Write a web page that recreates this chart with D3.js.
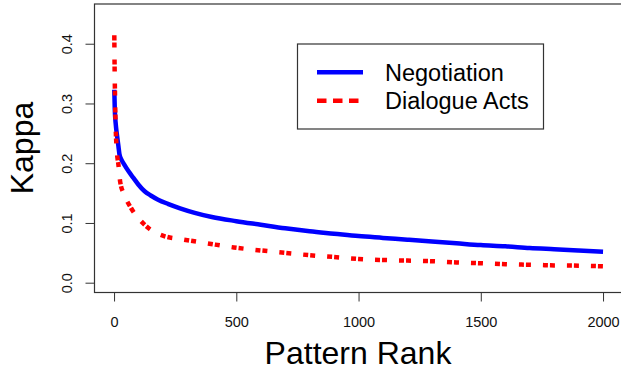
<!DOCTYPE html>
<html>
<head>
<meta charset="utf-8">
<script src="https://cdn.jsdelivr.net/npm/d3@7"></script>
<style>
    body { margin: 0; background: white; }
    svg { display: block; font-family: "Liberation Sans", Arial, Helvetica, sans-serif; }
</style>
</head>
<body>
<script>
// Negotiation
const neg_rank = [1, 3, 7, 11, 18, 22, 30, 40, 60, 80, 100, 125, 150, 180, 220, 270, 330, 400, 500, 600, 700, 800, 900, 1000, 1100, 1200, 1300, 1400, 1500, 1600, 1700, 1800, 1900, 2000];
const neg_kappa = [0.323, 0.29, 0.265, 0.25, 0.228, 0.215, 0.206, 0.199, 0.186, 0.175, 0.164, 0.153, 0.146, 0.139, 0.132, 0.1246, 0.117, 0.110, 0.103, 0.097, 0.091, 0.086, 0.082, 0.078, 0.075, 0.072, 0.069, 0.066, 0.063, 0.061, 0.058, 0.056, 0.054, 0.052];

// Dialogue Acts
const da_rank = [1, 2, 4, 7, 11, 18, 25, 42, 70, 106, 147, 205, 277, 380, 490, 600, 700, 800, 900, 1000, 1100, 1200, 1300, 1400, 1500, 1600, 1700, 1800, 1900, 2000];
const da_kappa = [0.414, 0.37, 0.31, 0.256, 0.222, 0.197, 0.169, 0.147, 0.1246, 0.105, 0.0894, 0.078, 0.0727, 0.066, 0.059, 0.054, 0.050, 0.046, 0.043, 0.0397, 0.038, 0.037, 0.036, 0.034, 0.0325, 0.031, 0.030, 0.029, 0.0285, 0.0275];

const x_ticks = [0, 500, 1000, 1500, 2000];
const y_ticks = [0.0, 0.1, 0.2, 0.3, 0.4];
const series_names = ["Negotiation", "Dialogue Acts"];

const width = 621;
const height = 373;
const box_colour = "#333";

const svg = d3.select("body")
    .append("svg")
    .attr("width", width)
    .attr("height", height);

const x = d3.scaleLinear()
    .domain([-80, 2080])
    .range([94.5, 622.6]);
const y = d3.scaleLinear()
    .domain([-0.0164, 0.4665])
    .range([292.5, 4]);

// box round the plot region
svg.append("rect")
    .attr("x", x.range()[0])
    .attr("y", y.range()[1])
    .attr("width", x.range()[1] - x.range()[0])
    .attr("height", y.range()[0] - y.range()[1])
    .attr("fill", "none")
    .attr("stroke", box_colour)
    .attr("stroke-width", 1.2);

const x_axis = svg.append("g")
    .attr("transform", `translate(0,${y.range()[0]})`)
    .call(d3.axisBottom(x).tickValues(x_ticks).tickSize(9).tickPadding(15)
        .tickFormat(d3.format("d")).tickSizeOuter(0));
x_axis.select(".domain")
    .attr("d", `M${x(0)},0H${x(2000)}`)
    .attr("stroke", box_colour);
x_axis.selectAll(".tick line").attr("stroke", box_colour);
x_axis.selectAll(".tick text")
    .style("font-size", "14.5px")
    .attr("font-family", null)
    .attr("fill", "#111");

const y_axis = svg.append("g")
    .attr("transform", `translate(${x.range()[0]},0)`)
    .call(d3.axisLeft(y).tickValues(y_ticks).tickSize(9).tickFormat(d3.format(".1f")).tickSizeOuter(0));
y_axis.select(".domain")
    .attr("d", `M0,${y(0)}V${y(0.4)}`)
    .attr("stroke", box_colour);
y_axis.selectAll(".tick line").attr("stroke", box_colour);
y_axis.selectAll(".tick text")
    .style("font-size", "14.5px")
    .attr("font-family", null)
    .attr("fill", "#111")
    .attr("x", null)
    .attr("dy", null)
    .attr("text-anchor", "middle")
    .attr("transform", "translate(-22.5,0) rotate(-90)");

const line = d3.line()
    .x(d => x(d[0]))
    .y(d => y(d[1]))
    .curve(d3.curveMonotoneX);

svg.append("path")
    .datum(d3.zip(neg_rank, neg_kappa))
    .attr("d", line)
    .attr("fill", "none")
    .attr("stroke", "#0000ff")
    .attr("stroke-width", 4.5)
    .attr("stroke-linejoin", "round");

svg.append("path")
    .datum(d3.zip(da_rank, da_kappa))
    .attr("d", line)
    .attr("fill", "none")
    .attr("stroke", "#ff0000")
    .attr("stroke-width", 4.5)
    .attr("stroke-dasharray", "5,2,5,12");

// axis titles
svg.append("text")
    .attr("x", 358)
    .attr("y", 364)
    .attr("text-anchor", "middle")
    .style("font-size", "32px")
    .text("Pattern Rank");
svg.append("text")
    .attr("transform", "translate(33,148) rotate(-90)")
    .attr("text-anchor", "middle")
    .style("font-size", "32px")
    .text("Kappa");

// legend
const legend = svg.append("g").attr("id", "legend");
legend.append("rect")
    .attr("x", 297.5)
    .attr("y", 44)
    .attr("width", 246)
    .attr("height", 85)
    .attr("fill", "white")
    .attr("stroke", box_colour)
    .attr("stroke-width", 1.2);
const legend_rows = legend.selectAll("g")
    .data(series_names)
    .join("g")
    .attr("transform", (d, i) => `translate(0,${72.3 + i * 28.4})`);
legend_rows.append("line")
    .attr("x1", 317)
    .attr("x2", 363)
    .attr("stroke", (d, i) => i === 0 ? "#0000ff" : "#ff0000")
    .attr("stroke-width", 4.5)
    .attr("stroke-dasharray", (d, i) => i === 0 ? null : "9.5,6.5");
legend_rows.append("text")
    .attr("x", 385)
    .attr("dy", "0.35em")
    .style("font-size", "23.5px")
    .text(d => d);
</script>
</body>
</html>
